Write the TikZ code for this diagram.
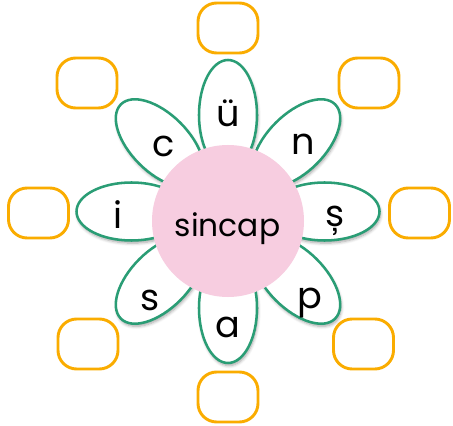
\documentclass[tikz,border=0pt]{standalone}
\usepackage{fontspec}
\setmainfont{Poppins}
\usetikzlibrary{calc,shapes.geometric,shadows.blur}

\definecolor{petalgreen}{RGB}{42,157,117}
\definecolor{boxorange}{RGB}{250,172,0}
\definecolor{centerpink}{RGB}{247,205,224}

\begin{document}
\begin{tikzpicture}[x=0.75pt, y=0.75pt,
  petal/.style={ellipse, draw=petalgreen, line width=1.9pt, fill=white, minimum width=82.5pt, minimum height=43.5pt, inner sep=0pt,
    blur shadow={shadow xshift=0.8pt, shadow yshift=-2pt, shadow blur steps=6, shadow opacity=35}},
  letter/.style={anchor=base, inner sep=0pt, font=\fontsize{27.5}{30}\selectfont},
  answerbox/.style={rectangle, draw=boxorange, line width=2.2pt, rounded corners=14pt, minimum width=45pt, minimum height=37.5pt}]

% Keep the page the size of the reference
\useasboundingbox (0,0) rectangle (453,425);

% Middle of the petals
\coordinate (middle) at (228,213.5);

% Petals
\node (petal_c) [petal, rotate=135] at ($(middle)+(135:96.5)$) {};
\node (petal_n) [petal, rotate=45] at ($(middle)+(45:96.5)$) {};
\node (petal_s) [petal, rotate=-135] at ($(middle)+(-135:96.5)$) {};
\node (petal_p) [petal, rotate=-45] at ($(middle)+(-45:96.5)$) {};
\node (petal_i) [petal, rotate=180] at ($(middle)+(180:96.5)$) {};
\node (petal_sc) [petal, rotate=0] at ($(middle)+(0:96.5)$) {};
\node (petal_a) [petal, rotate=-90] at ($(middle)+(-90:96.5)$) {};
\node (petal_u) [petal, rotate=90] at ($(middle)+(90:96.5)$) {};

% Pink middle of the flower
\node (heart) [circle, fill=centerpink, minimum size=114pt, inner sep=0pt] at (228,204) {};
\node (word) [anchor=base, inner sep=0pt, font=\fontsize{23.5}{26}\selectfont] at (227.5,188) {sincap};

% Letters on the petals
\node (letter_u) [letter] at (228,298) {ü};
\node (letter_n) [letter] at (303,270) {n};
\node (letter_sc) [letter] at (335,198) {ș};
\node (letter_p) [letter] at (310,117) {p};
\node (letter_a) [letter] at (227.5,88) {a};
\node (letter_s) [letter] at (150.5,115) {s};
\node (letter_i) [letter] at (118.5,196) {i};
\node (letter_c) [letter] at (163.5,268) {c};

% Empty boxes round the flower
\node (box_top) [answerbox] at (228,397) {};
\node (box_top_right) [answerbox] at (369,342) {};
\node (box_right) [answerbox] at (419.5,212) {};
\node (box_bottom_right) [answerbox] at (363.5,81) {};
\node (box_bottom) [answerbox] at (228,28) {};
\node (box_bottom_left) [answerbox] at (88,81) {};
\node (box_left) [answerbox] at (38.5,212) {};
\node (box_top_left) [answerbox] at (87,342) {};

\end{tikzpicture}
\end{document}
